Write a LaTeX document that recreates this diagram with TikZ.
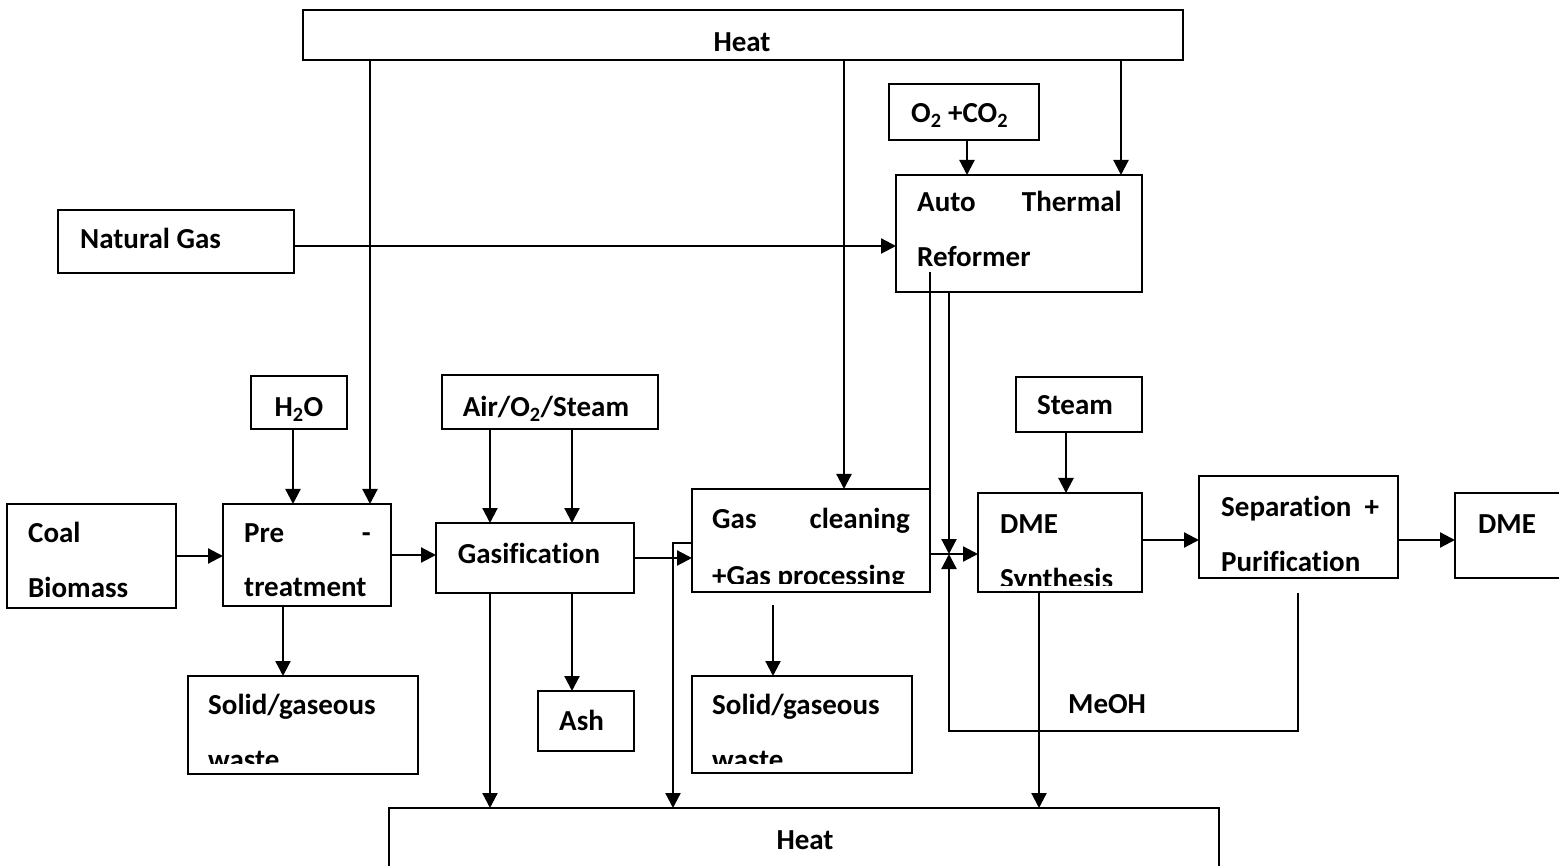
\documentclass[tikz,border=0pt]{standalone}
\usepackage{fontspec}
\setmainfont{Carlito}[Ligatures={NoCommon}]
\usetikzlibrary{arrows.meta}
\newcommand\mkbox[5]{\node[box,minimum width={(#4)-(#2)},minimum height={(#5)-(#3)}] (#1) at ({((#2)+(#4))/2},{((#3)+(#5))/2}) {};}
\begin{document}
\begin{tikzpicture}[x=1pt,y=-1pt,
 box/.style={draw,line width=2.2pt,inner sep=0pt,outer sep=0pt},
 lbl/.style={inner sep=0pt,font=\fontsize{29}{35}\selectfont\bfseries},
 flow/.style={line width=2.2pt,-{Triangle[length=15pt,width=15pt]}},
 wire/.style={line width=2.2pt}]
\useasboundingbox (0,0) rectangle (1559,866);
% boxes
\mkbox{heatT}{303}{10}{1183}{60}
\mkbox{o2}{889}{84}{1039}{140}
\mkbox{atr}{896}{175}{1142}{292}
\mkbox{ng}{58}{210}{294}{273}
\mkbox{h2o}{251}{376}{347}{429}
\mkbox{air}{442}{375}{658}{429}
\mkbox{stm}{1016}{377}{1142}{432}
\mkbox{coal}{7}{504}{176}{608}
\mkbox{pre}{223}{504}{391}{606}
\mkbox{gas}{436}{523}{634}{593}
\mkbox{gcl}{692}{489}{930}{592}
\mkbox{dsyn}{978}{493}{1142}{592}
\mkbox{sep}{1199}{476}{1398}{578}
\mkbox{dme}{1455}{493}{1580}{578}
\mkbox{swa}{188}{676}{418}{774}
\mkbox{ash}{538}{691}{634}{751}
\mkbox{swb}{692}{676}{912}{773}
\mkbox{heatB}{389}{808}{1219}{890}
% labels
\node[lbl] (tHeatT) at (742,42) {Heat};
\node[lbl,anchor=base west] (tO2) at (911,123) {O\textsubscript{2} +CO\textsubscript{2}};
\node[lbl,anchor=base west] (tAuto) at (917,212) {Auto};
\node[lbl,anchor=base east] (tTherm) at (1122,212) {Thermal};
\node[lbl,anchor=base west] (tRef) at (917,267) {Reformer};
\node[lbl,anchor=base west] (tNG) at (80,249) {Natural Gas};
\node[lbl,anchor=base] (tH2O) at (299,417) {H\textsubscript{2}O};
\node[lbl,anchor=base] (tAir) at (546,417) {Air/O\textsubscript{2}/Steam};
\node[lbl,anchor=base] (tStm) at (1075,415) {Steam};
\node[lbl,anchor=base west] (tCoal) at (28,542) {Coal};
\node[lbl,anchor=base west] (tBio) at (28,597) {Biomass};
\node[lbl,anchor=base west] (tPre) at (244,542) {Pre};
\node[lbl,anchor=base east] (tDash) at (371,542) {-};
\node[lbl,anchor=base west] (tTreat) at (244,596) {treatment};
\node[lbl] (tGasif) at (529,553) {Gasification};
\node[lbl,anchor=base west] (tGas) at (712,529) {Gas};
\node[lbl,anchor=base east] (tClean) at (910,529) {cleaning};
\begin{scope}
\clip (693,490) rectangle (929,583);
\node[lbl,anchor=base west] (tProc) at (712,585) {+Gas processing};
\end{scope}
\node[lbl,anchor=base west] (tDME1) at (1000,533) {DME};
\begin{scope}
\clip (979,494) rectangle (1141,585);
\node[lbl,anchor=base west] (tSyn) at (1000,588) {Synthesis};
\end{scope}
\node[lbl,anchor=base west] (tSep) at (1221,516) {Separation\ \ +};
\node[lbl,anchor=base west] (tPur) at (1221,571) {Purification};
\node[lbl,anchor=base west] (tDME2) at (1478,533) {DME};
\node[lbl,anchor=base west] (tSwa) at (208,714) {Solid/gaseous};
\begin{scope}
\clip (189,677) rectangle (417,763);
\node[lbl,anchor=base west] (tWa) at (208,769) {waste};
\end{scope}
\node[lbl,anchor=base west] (tSwb) at (712,714) {Solid/gaseous};
\begin{scope}
\clip (693,677) rectangle (911,763);
\node[lbl,anchor=base west] (tWb) at (712,769) {waste};
\end{scope}
\node[lbl,anchor=base west] (tAsh) at (559,730) {Ash};
\node[lbl,anchor=base west] (tMeOH) at (1068,713) {MeOH};
\node[lbl] (tHeatB) at (805,840) {Heat};
% helper coordinates
\coordinate (xa) at (370,0);
\coordinate (xb) at (844,0);
\coordinate (xc) at (1121,0);
\coordinate (xd) at (967,0);
\coordinate (xe) at (293,0);
\coordinate (xf) at (490,0);
\coordinate (xg) at (572,0);
\coordinate (xh) at (1066,0);
\coordinate (xp) at (283,0);
\coordinate (xq) at (1039,0);
\coordinate (yn) at (0,246);
\coordinate (gk) at (673,543);
\coordinate (gw) at (773,605);
\coordinate (atrIn) at (930,272);
\coordinate (jn) at (949,554);
\coordinate (la) at (1298,593);
\coordinate (lb) at (1298,731);
\coordinate (lc) at (949,731);
\coordinate (ys) at (0,540);
% connectors
\draw[flow] (heatT.south -| xa) -- (pre.north -| xa);
\draw[flow] (heatT.south -| xb) -- (gcl.north -| xb);
\draw[flow] (heatT.south -| xc) -- (atr.north -| xc);
\draw[flow] (o2.south -| xd) -- (atr.north -| xd);
\draw[flow] (ng.east |- yn) -- (atr.west |- yn);
\draw[flow] (h2o.south -| xe) -- (pre.north -| xe);
\draw[flow] (air.south -| xf) -- (gas.north -| xf);
\draw[flow] (air.south -| xg) -- (gas.north -| xg);
\draw[flow] (stm.south -| xh) -- (dsyn.north -| xh);
\draw[flow] (coal.east) -- (coal.east -| pre.west);
\draw[flow] (pre.east) -- (pre.east -| gas.west);
\draw[flow] (gas.east) -- (gas.east -| gcl.west);
\draw[flow] (gcl.west |- gk) -- (gk) -- (gk |- heatB.north);
\draw[flow] (gas.south -| xf) -- (heatB.north -| xf);
\draw[flow] (gas.south -| xg) -- (ash.north -| xg);
\draw[flow] (pre.south -| xp) -- (swa.north -| xp);
\draw[flow] (gw) -- (gw |- swb.north);
\draw[wire] (gcl.north east) -- (atrIn);
\draw[flow] (atr.south -| jn) -- (jn);
\draw[flow] (gcl.east |- jn) -- (dsyn.west |- jn);
\draw[flow] (la) -- (lb) -- (lc) -- (jn);
\draw[flow] (dsyn.south -| xq) -- (heatB.north -| xq);
\draw[flow] (dsyn.east |- ys) -- (sep.west |- ys);
\draw[flow] (sep.east |- ys) -- (dme.west |- ys);
\end{tikzpicture}
\end{document}
